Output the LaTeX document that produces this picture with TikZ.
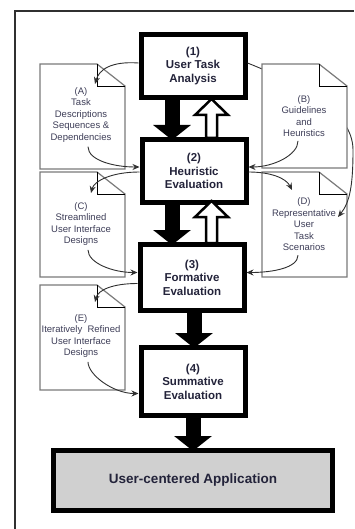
\documentclass[tikz,border=0pt]{standalone}
\usepackage{fontspec}
\setmainfont{Liberation Sans}
\usetikzlibrary{
  arrows.meta,
  positioning,
  calc
}
\definecolor{boxText}{HTML}{23233A}
\definecolor{docText}{HTML}{3E3E58}
\definecolor{docLine}{HTML}{7A7A7A}
\definecolor{appFill}{HTML}{D0D0D0}
\definecolor{curveLine}{HTML}{303030}

\begin{document}
\begin{tikzpicture}[x=1pt, y=-1pt,
  stage/.style={draw, line width=5pt, fill=white, minimum width=104pt,
    minimum height=63pt, align=center, text=boxText,
    font=\fontsize{11.5}{13.5}\selectfont\bfseries},
  doclabel/.style={align=center, text=docText, inner sep=1pt,
    font=\fontsize{9.5}{11.5}\selectfont},
  paper/.style={draw=docLine, line width=1.2pt, fill=white},
  fold/.style={draw=black, line width=0.9pt},
  flow/.style={draw=curveLine, line width=0.9pt, -{Stealth[length=7pt, width=6pt]}},
  push/.style={draw=black, line width=15pt, -{Triangle[length=15pt, width=37pt]}},
  back/.style={draw=black, line width=2.5pt, fill=white}
]
  \useasboundingbox (0,0) rectangle (354,529);
  % frame
  \draw[curveLine, line width=1.3pt] (15,529) -- (15,11) -- (354,11);

  % stages
  \node[stage] (task) at (193,66) {(1)\\User Task\\Analysis};
  \node[stage] (heur) at (194,171) {(2)\\Heuristic\\Evaluation};
  \node[stage, minimum height=66pt] (form) at (192,277.5) {(3)\\Formative\\Evaluation};
  \node[stage, minimum height=68pt] (summ) at (193,381.5) {(4)\\Summative\\Evaluation};
  \node[stage, fill=appFill, minimum width=279pt, minimum height=60pt,
    font=\fontsize{13.5}{16}\selectfont\bfseries] (app) at (193,480.5) {User-centered Application};

  % papers (B comes later)
  \foreach \x/\y in {40/64, 40/172, 262/172, 40/285} {
    \draw[paper] (\x,\y) -- ++(57,0) -- ++(28,22) -- ++(0,83) -- ++(-85,0) -- cycle;
    \draw[fold] (\x+57,\y) -- ++(0,22) -- ++(28,0);
  }
  \node[doclabel] (docA) at (81,115) {(A)\\Task\\Descriptions\\Sequences \&\\Dependencies};
  \node[doclabel] (docC) at (81,224) {(C)\\Streamlined\\User Interface\\Designs};
  \node[doclabel] (docD) at (304,224.5) {(D)\\Representative\\User\\Task\\Scenarios};
  \node[doclabel] (docE) at (81,336) {(E)\\Iteratively~ Refined\\User Interface\\Designs};

  \coordinate (tipA) at (95,84);
  \coordinate (tipC) at (91,193);
  \coordinate (tipD) at (292,190);
  \coordinate (tipDD) at (338,217);
  \coordinate (tipE) at (95,302);

  % goes behind B
  \draw[flow] ($(task.east)+(0,-3)$) .. controls +(50,20) and +(0,-40) .. (353,150)
    .. controls +(0,35) and +(12,-15) .. (tipDD);

  \draw[paper] (262,64) -- ++(57,0) -- ++(28,22) -- ++(0,82) -- ++(-85,0) -- cycle;
  \draw[fold] (319,64) -- ++(0,22) -- ++(28,0);
  \node[doclabel] (docB) at (304,116) {(B)\\Guidelines\\and\\Heuristics};

  % thin curves
  \draw[flow] ($(task.west)+(0,-3)$) .. controls +(-28,-2) and +(4,-14) .. (tipA);
  \draw[flow] ($(docA.south)+(7,3)$) .. controls +(0,14) and +(-25,0) .. ($(heur.west)+(0,-4)$);
  \draw[flow] ($(docB.south)+(-6,3)$) .. controls +(0,14) and +(25,0) .. ($(heur.east)+(0,-4)$);
  \draw[flow] ($(heur.east)+(0,1)$) .. controls +(22,0) and +(-6,-12) .. (tipD);
  \draw[flow] ($(heur.west)+(0,1)$) .. controls +(-28,0) and +(3,-12) .. (tipC);
  \draw[flow] ($(docC.south)+(7,3)$) .. controls +(0,13) and +(-25,0) .. ($(form.west)+(0,-5)$);
  \draw[flow] ($(docD.south)+(-6,3)$) .. controls +(0,13) and +(25,0) .. ($(form.east)+(0,-5)$);
  \draw[flow] ($(form.west)+(0,6)$) .. controls +(-25,0) and +(3,-12) .. (tipE);
  \draw[flow] ($(docE.south)+(7,3)$) .. controls +(0,13) and +(-25,0) .. ($(summ.west)+(0,12)$);

  % thick arrows
  \draw[push] ($(task.south)+(-21,0)$) -- ($(heur.north)+(-22,3)$);
  \draw[back] ($(heur.north)+(12,1)$) -- ++(0,-23) -- ++(-11,0) -- ++(16.5,-16)
    -- ++(16.5,16) -- ++(-11,0) -- ++(0,23) -- cycle;
  \draw[push] ($(heur.south)+(-22,0)$) -- ($(form.north)+(-20,3)$);
  \draw[back] ($(form.north)+(14,1)$) -- ++(0,-26) -- ++(-11,0) -- ++(16.5,-16)
    -- ++(16.5,16) -- ++(-11,0) -- ++(0,26) -- cycle;
  \draw[push] ($(form.south)+(2,0)$) -- ($(summ.north)+(1,3)$);
  \draw[push] (summ.south) -- ($(app.north)+(0,3)$);
\end{tikzpicture}
\end{document}
